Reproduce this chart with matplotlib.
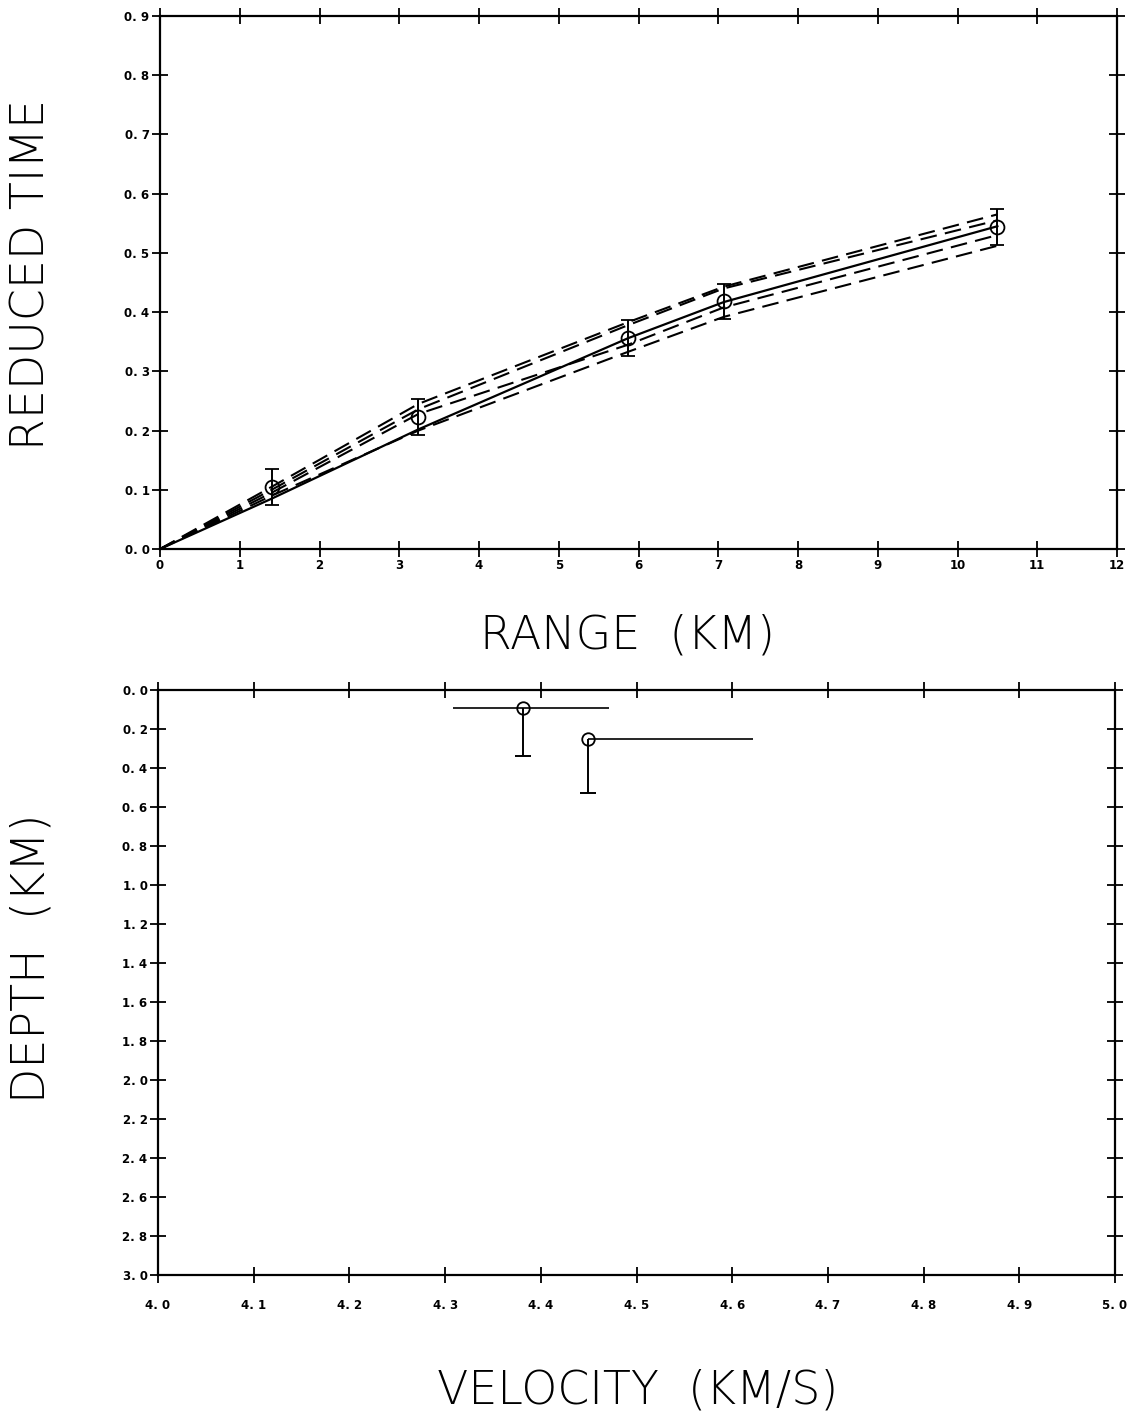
import matplotlib
matplotlib.use("Agg")
import matplotlib.pyplot as plt
from matplotlib.ticker import FixedLocator, FuncFormatter

plt.rcParams["lines.scale_dashes"] = False

# ---- travel-time data (upper panel) ----
ranges_km = [0.0, 1.4, 3.24, 5.87, 7.07, 10.5]
model_time = [0.0, 0.085, 0.202, 0.356, 0.417, 0.545]
alt_times = [
    [0.0, 0.105, 0.245, 0.383, 0.443, 0.565],
    [0.0, 0.100, 0.236, 0.378, 0.440, 0.555],
    [0.0, 0.095, 0.228, 0.345, 0.408, 0.530],
    [0.0, 0.090, 0.200, 0.333, 0.392, 0.512],
]
obs_range = [1.4, 3.24, 5.87, 7.07, 10.5]
obs_time = [0.105, 0.223, 0.356, 0.418, 0.544]
obs_err = [0.03, 0.03, 0.03, 0.03, 0.03]

# ---- velocity-depth data (lower panel) ----
vel = [4.381, 4.449]
depth = [0.092, 0.251]
vel_minus = [0.073, 0.0]
vel_plus = [0.090, 0.173]
depth_down = [0.246, 0.277]

time_ticks = [0.0, 0.1, 0.2, 0.3, 0.4, 0.5, 0.6, 0.7, 0.8, 0.9]
range_ticks = list(range(0, 13))
depth_ticks = [0.0, 0.2, 0.4, 0.6, 0.8, 1.0, 1.2, 1.4, 1.6, 1.8, 2.0,
               2.2, 2.4, 2.6, 2.8, 3.0]
vel_ticks = [4.0, 4.1, 4.2, 4.3, 4.4, 4.5, 4.6, 4.7, 4.8, 4.9, 5.0]

W, H = 1148, 1417
fig = plt.figure(figsize=(W / 100, H / 100), dpi=100)

ax1 = fig.add_axes([160 / W, 1 - 549 / H, (1117 - 160) / W, (549 - 16) / H])
ax2 = fig.add_axes([158 / W, 1 - 1275 / H, (1115 - 158) / W, (1275 - 690) / H])

tick_font = dict(family="DejaVu Sans", weight="bold", size=8.5)
label_font = dict(family="DejaVu Sans", weight="light", size=33)


def spaced(fmt):
    return FuncFormatter(lambda v, p: (fmt % v).replace(".", ". "))


for ax in (ax1, ax2):
    for s in ax.spines.values():
        s.set_linewidth(1.6)
    ax.tick_params(which="major", direction="inout", length=11, width=1.3,
                   top=True, right=True, labeltop=False, labelright=False)
    ax.set_facecolor("white")

# upper panel
for t in alt_times:
    ax1.plot(ranges_km, t, color="black", lw=1.5, linestyle=(0, (12, 6)))
ax1.plot(ranges_km, model_time, color="black", lw=1.6)
ax1.errorbar(obs_range, obs_time, yerr=obs_err, fmt="o", mfc="none",
             mec="black", ms=10, mew=1.3, ecolor="black", elinewidth=1.4,
             capsize=5, capthick=1.4)
ax1.set_xlim(0, 12)
ax1.set_ylim(0, 0.9)
ax1.xaxis.set_major_locator(FixedLocator(range_ticks))
ax1.yaxis.set_major_locator(FixedLocator(time_ticks))
ax1.xaxis.set_major_formatter(FuncFormatter(lambda v, p: "%d" % v))
ax1.yaxis.set_major_formatter(spaced("%.1f"))
ax1.tick_params(axis="x", pad=2)
ax1.tick_params(axis="y", pad=2)
for lab in ax1.get_xticklabels() + ax1.get_yticklabels():
    lab.set_fontproperties(matplotlib.font_manager.FontProperties(**tick_font))

# lower panel
ax2.errorbar(vel, depth, xerr=[vel_minus, vel_plus], fmt="none",
             ecolor="black", elinewidth=1.2, capsize=0)
_, caps, _ = ax2.errorbar(vel, depth, yerr=[[0.0] * len(vel), depth_down],
                          fmt="none", ecolor="black", elinewidth=1.4,
                          capsize=6, capthick=1.4)
caps[0].set_visible(False)
ax2.plot(vel, depth, "o", mfc="none", mec="black", ms=9, mew=1.3)
ax2.set_xlim(4.0, 5.0)
ax2.set_ylim(3.0, 0.0)
ax2.xaxis.set_major_locator(FixedLocator(vel_ticks))
ax2.yaxis.set_major_locator(FixedLocator(depth_ticks))
ax2.xaxis.set_major_formatter(spaced("%.1f"))
ax2.yaxis.set_major_formatter(spaced("%.1f"))
ax2.tick_params(axis="x", pad=12)
ax2.tick_params(axis="y", pad=2)
for lab in ax2.get_xticklabels() + ax2.get_yticklabels():
    lab.set_fontproperties(matplotlib.font_manager.FontProperties(**tick_font))

# axis titles
fig.text(32 / W, 1 - 275 / H, "REDUCED TIME", rotation=90, ha="center",
         va="center", **label_font)
fig.text(628 / W, 1 - 635 / H, "RANGE  (KM)", ha="center", va="center",
         **label_font)
fig.text(32 / W, 1 - 958 / H, "DEPTH  (KM)", rotation=90, ha="center",
         va="center", **label_font)
fig.text(638 / W, 1 - 1390 / H, "VELOCITY  (KM/S)", ha="center",
         va="center", **label_font)

fig.savefig("out.png", dpi=100, facecolor="white")
